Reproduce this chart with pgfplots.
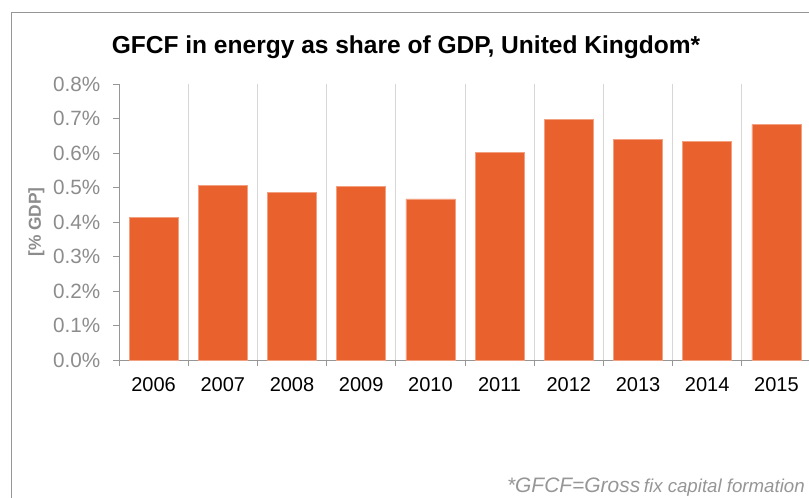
\documentclass[border=0pt]{standalone}
\usepackage{fontspec}
\setmainfont{Liberation Sans}
\usepackage{pgfplots}
\pgfplotsset{compat=1.18}
\definecolor{barorange}{RGB}{233,98,46}
\definecolor{baredge}{RGB}{243,160,128}
\definecolor{axisgray}{RGB}{150,150,150}
\definecolor{gridgray}{RGB}{215,215,215}
\definecolor{labelgray}{RGB}{140,140,140}

\begin{document}
\begin{tikzpicture}
% outer frame (runs off the right and bottom edges)
\draw[axisgray, line width=0.75pt] (8.25pt,-20pt) -- (8.25pt,363pt) -- (640pt,363pt);

\begin{axis}[
    at={(89.25pt,102.75pt)}, anchor=south west,
    scale only axis,
    width=519pt, height=207pt,
    xmin=-0.5, xmax=9.5,
    ymin=0, ymax=0.8,
    axis lines*=left,
    axis line style={axisgray, line width=0.75pt},
    tick align=outside,
    major tick length=4.5pt,
    tick style={axisgray, line width=0.75pt},
    xtick={-0.5,0.5,...,9.5},
    x tick label as interval,
    xticklabels={2006,2007,2008,2009,2010,2011,2012,2013,2014,2015},
    xmajorgrids,
    grid style={gridgray, line width=0.75pt},
    ytick={0,0.1,...,0.8},
    yticklabel={\pgfmathprintnumber[fixed,fixed zerofill,precision=1]{\tick}\%},
    /pgf/number format/assume math mode=true,
    yticklabel style={font=\fontsize{15.5}{18}\selectfont, text=labelgray, xshift=-6pt},
    xticklabel style={font=\fontsize{15}{18}\selectfont, text=black, yshift=-5pt},
    ylabel={[\% GDP]},
    ylabel style={at={(axis description cs:0,0.5)}, anchor=center, yshift=62pt,
                  font=\bfseries\fontsize{13}{15}\selectfont, text=labelgray},
    clip=false,
]
\addplot[ybar, bar width=36.75pt, fill=barorange, draw=baredge, line width=0.4pt]
coordinates {
    (0,0.414) (1,0.506) (2,0.486) (3,0.503) (4,0.467)
    (5,0.602) (6,0.698) (7,0.640) (8,0.634) (9,0.683)
};
\end{axis}

\node[font=\bfseries\fontsize{18.4}{22}\selectfont, anchor=center] at (304.5pt,337.5pt)
    {GFCF in energy as share of GDP, United Kingdom*};
\node[anchor=base east, inner sep=0pt, text=axisgray, font=\itshape] at (603.75pt,3.75pt)
    {{\fontsize{15.7}{18}\selectfont *GFCF=Gross} {\fontsize{14}{16}\selectfont fix capital formation}};

\pgfresetboundingbox
\useasboundingbox (0,0) rectangle (606.75pt,372.75pt);
\end{tikzpicture}
\end{document}
